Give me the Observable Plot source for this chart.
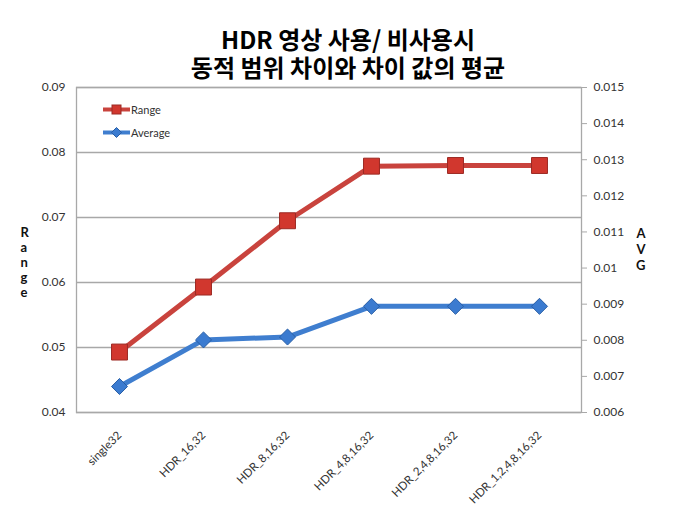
<!DOCTYPE html>
<html><head><meta charset="utf-8">
<script src="https://cdn.jsdelivr.net/npm/d3@7"></script>
<script src="https://cdn.jsdelivr.net/npm/@observablehq/plot@0.6"></script>
<style>
body{margin:0;background:#fff;}
#wrap{position:relative;width:696px;height:520px;font-family:Lato,"Open Sans",sans-serif;}
#title{height:78px;box-sizing:border-box;padding-top:25px;text-align:center;font-family:"Noto Sans CJK KR",sans-serif;font-weight:bold;font-size:24px;line-height:28px;color:#000;}
#title div{height:28px;}
#legend{position:absolute;left:102px;top:98px;font-size:11px;color:#333;}
#legend div{display:flex;align-items:center;height:23px;}
</style></head>
<body>
<div id="wrap">
<div id="title"><div>HDR 영상 사용/ 비사용시</div><div>동적 범위 차이와 차이 값의 평균</div></div>
<div id="chart"></div>
<div id="legend"></div>
</div>
<script>
const categories = ["single32","HDR_16,32","HDR_8,16,32","HDR_4,8,16,32","HDR_2,4,8,16,32","HDR_1,2,4,8,16,32"];
const rangeValues = [0.0493,0.0593,0.0695,0.0779,0.0780,0.0780];
const avgValues = [0.00672,0.00801,0.00809,0.00894,0.00894,0.00894];
const rangeTicks = [0.04,0.05,0.06,0.07,0.08,0.09];
const avgTicks = [0.006,0.007,0.008,0.009,0.010,0.011,0.012,0.013,0.014,0.015];
const seriesNames = ["Range","Average"];

const redLine="#c9433d", redFill="#d1372e", redStroke="#9c2a24";
const blueLine="#3f7ecf", blueFill="#3b7bd0", blueStroke="#285ea6";

const avgMin=0.006, avgMax=0.015, rMin=0.04, rMax=0.09;
const toY = v => rMin + (v-avgMin)*(rMax-rMin)/(avgMax-avgMin);
const fromY = y => avgMin + (y-rMin)*(avgMax-avgMin)/(rMax-rMin);

const diamond = {draw(ctx,size){const r=Math.sqrt(size/2);ctx.moveTo(0,-r);ctx.lineTo(r,0);ctx.lineTo(0,r);ctx.lineTo(-r,0);ctx.closePath();}};

const rangeData = categories.map((c,i)=>({c,v:rangeValues[i]}));
const avgData = categories.map((c,i)=>({c,v:toY(avgValues[i])}));

const chart = Plot.plot({
  width:696, height:442,
  marginTop:9, marginLeft:76, marginRight:115, marginBottom:108,
  style:{fontFamily:"Lato, 'Open Sans', sans-serif", fontSize:"12px", color:"#333", background:"#fff"},
  x:{type:"point", domain:categories, padding:0.5},
  y:{domain:[rMin,rMax]},
  marks:[
    Plot.gridY(rangeTicks,{stroke:"#a8a8a8", strokeOpacity:1, strokeWidth:1.3}),
    Plot.frame({stroke:"#a8a8a8", strokeWidth:1.3}),
    Plot.axisY(rangeTicks,{anchor:"left", tickSize:0, tickPadding:11, tickFormat:d=>String(+d.toFixed(2)), label:null}),
    Plot.axisY(avgTicks.map(toY),{anchor:"right", tickSize:5, stroke:"#a8a8a8", tickPadding:7, tickFormat:d=>String(+fromY(d).toFixed(3)), label:null}),
    Plot.axisX({tickRotate:-45, tickSize:0, tickPadding:21, fontSize:11.5, fill:"#333", label:null}),
    Plot.text(["R\na\nn\ng\ne"],{text:d=>d, frameAnchor:"left", dx:-56, dy:12, fontWeight:"bold", fontSize:13, lineHeight:1.15, fill:"#111"}),
    Plot.text(["A\nV\nG"],{text:d=>d, frameAnchor:"right", dx:64, dy:-1, fontWeight:"bold", fontSize:13, lineHeight:1.25, fill:"#111"}),
    Plot.line(rangeData,{x:"c", y:"v", stroke:redLine, strokeWidth:5}),
    Plot.line(avgData,{x:"c", y:"v", stroke:blueLine, strokeWidth:5}),
    Plot.dot(rangeData,{x:"c", y:"v", symbol:"square", r:9, fill:redFill, stroke:redStroke, strokeWidth:1}),
    Plot.dot(avgData,{x:"c", y:"v", symbol:diamond, r:6.4, fill:blueFill, stroke:blueStroke, strokeWidth:1})
  ]
});
document.getElementById("chart").appendChild(chart);

const legendSpecs = [
  {name:seriesNames[0], line:redLine, fill:redFill, stroke:redStroke, shape:"square"},
  {name:seriesNames[1], line:blueLine, fill:blueFill, stroke:blueStroke, shape:"diamond"}
];
const lg = document.getElementById("legend");
legendSpecs.forEach(s=>{
  const row=document.createElement("div");
  const marker = s.shape==="square"
    ? `<rect x="10" y="3" width="9" height="9" fill="${s.fill}" stroke="${s.stroke}"/>`
    : `<path d="M14.5,2.5 L19.5,7.5 L14.5,12.5 L9.5,7.5Z" fill="${s.fill}" stroke="${s.stroke}"/>`;
  row.innerHTML = `<svg width="29" height="15"><line x1="1" x2="28" y1="7.5" y2="7.5" stroke="${s.line}" stroke-width="4"/>${marker}</svg><span>${s.name}</span>`;
  lg.appendChild(row);
});
</script>
</body></html>
